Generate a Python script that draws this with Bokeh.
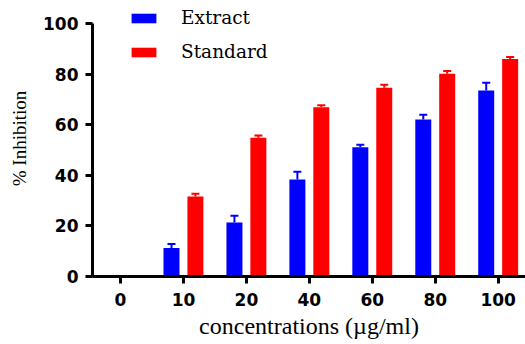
from bokeh.plotting import figure
from bokeh.models import ColumnDataSource, Range1d, FixedTicker, Whisker, Legend, LegendItem
from bokeh.transform import dodge
from bokeh.embed import file_html
from bokeh.resources import INLINE

concentrations = ["0", "10", "20", "40", "60", "80", "100"]
extract = [0, 11.3, 21.3, 38.3, 51.1, 62.1, 73.5]
extract_err = [0, 1.5, 2.7, 3.1, 1.0, 1.8, 3.1]
standard = [0, 31.6, 54.8, 66.9, 74.6, 80.1, 86.0]
standard_err = [0, 1.1, 0.9, 0.8, 1.2, 1.1, 0.8]
y_ticks = [0, 20, 40, 60, 80, 100]

idx = list(range(len(concentrations)))
src = ColumnDataSource(dict(
    x=idx, extract=extract, standard=standard,
    ext_up=[v + e for v, e in zip(extract, extract_err)],
    std_up=[v + e for v, e in zip(standard, standard_err)],
))

p = figure(width=525, height=344, output_backend="svg", toolbar_location=None,
           x_range=Range1d(-0.445, 6.434), y_range=Range1d(0, 109.09),
           min_border_left=92, min_border_right=0, min_border_top=0, min_border_bottom=68)
p.outline_line_color = None
p.grid.visible = False

off = 0.19
w = 0.254
r1 = p.vbar(x=dodge("x", -off, range=p.x_range), top="extract", width=w, source=src,
            fill_color="#0000FF", line_color=None)
r2 = p.vbar(x=dodge("x", off, range=p.x_range), top="standard", width=w, source=src,
            fill_color="#FF0000", line_color=None)

for base_off, low, up, col in ((-off, "extract", "ext_up", "#0000FF"), (off, "standard", "std_up", "#FF0000")):
    wk = Whisker(base=dodge("x", base_off, range=p.x_range), lower=low, upper=up, source=src,
                 line_color=col, line_width=2, lower_head=None)
    wk.upper_head.size = 8
    wk.upper_head.line_color = col
    wk.upper_head.line_width = 2
    p.add_layout(wk)

p.xaxis.ticker = FixedTicker(ticks=idx)
p.xaxis.major_label_overrides = {i: c for i, c in zip(idx, concentrations)}
p.yaxis.ticker = FixedTicker(ticks=y_ticks)
p.yaxis.bounds = (y_ticks[0], y_ticks[-1])

for ax in (p.xaxis, p.yaxis):
    ax.axis_line_width = 3
    ax.axis_line_color = "black"
    ax.major_tick_line_width = 3
    ax.major_tick_line_color = "black"
    ax.major_tick_in = 0
    ax.major_tick_out = 7
    ax.minor_tick_line_color = None
    ax.major_label_text_font = "DejaVu Sans"
    ax.major_label_text_font_style = "bold"
    ax.major_label_text_font_size = "17px"
    ax.major_label_text_color = "black"
    ax.axis_label_text_font = "Liberation Serif"
    ax.axis_label_text_font_style = "normal"
    ax.axis_label_text_color = "black"

p.xaxis.major_label_standoff = 9
p.yaxis.major_label_standoff = 7
p.xaxis.axis_label = "concentrations (µg/ml)"
p.xaxis.axis_label_text_font_size = "24px"
p.xaxis.axis_label_standoff = 4
p.yaxis.axis_label = "% Inhibition"
p.yaxis.axis_label_text_font_size = "19px"
p.yaxis.axis_label_standoff = 10

legend = Legend(items=[LegendItem(label="Extract", renderers=[r1]),
                       LegendItem(label="Standard", renderers=[r2])],
                location=(36, 214))
legend.glyph_width = 31
legend.glyph_height = 12
legend.label_height = 12
legend.label_standoff = 22
legend.spacing = 13
legend.padding = 0
legend.margin = 0
legend.border_line_color = None
legend.background_fill_alpha = 0
legend.label_text_font = "DejaVu Serif"
legend.label_text_font_size = "18.5px"
legend.label_text_color = "black"
p.add_layout(legend)

open("out.html", "w").write(file_html(p, INLINE))
